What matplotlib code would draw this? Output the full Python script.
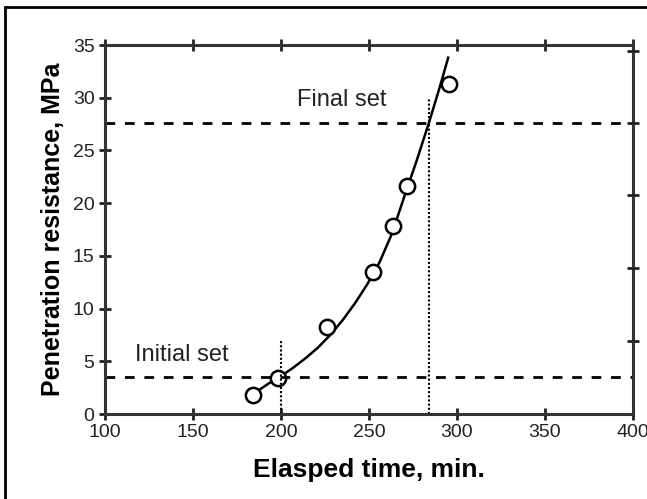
import matplotlib.pyplot as plt
from matplotlib.patches import Rectangle

plt.rcParams['font.family'] = ['Liberation Sans', 'DejaVu Sans']

# measured points
time_pts = [183.9, 198.5, 226.0, 252.4, 263.8, 271.4, 295.6]
resist_pts = [1.8, 3.4, 8.3, 13.5, 17.8, 21.6, 31.3]

# fitted curve
curve_t = [186, 193, 200, 207, 214, 221, 228, 235, 242, 249, 256,
           263, 270, 277, 284, 290, 295]
curve_r = [2.1, 2.9, 3.6, 4.4, 5.3, 6.3, 7.5, 8.9, 10.5, 12.3, 14.4,
           17.1, 20.6, 24.0, 27.6, 30.9, 33.8]

initial_set = 3.5
final_set = 27.6
initial_time = 200
final_time = 284

xticks = [100, 150, 200, 250, 300, 350, 400]
yticks = [0, 5, 10, 15, 20, 25, 30, 35]
right_ticks = [6.95, 13.85, 20.75, 27.65, 34.4]

fig = plt.figure(figsize=(6.47, 4.99), dpi=100)
ax = fig.add_axes([0.1623, 0.1703, 0.9784 - 0.1623, 0.9098 - 0.1703])

ax.plot(curve_t, curve_r, color='black', lw=1.8)
ax.plot(time_pts, resist_pts, 'o', mfc='white', mec='black', ms=11, mew=1.8)

ax.axhline(initial_set, color='black', lw=2, ls=(0, (3.5, 3.5)))
ax.axhline(final_set, color='black', lw=2, ls=(0, (3.5, 3.5)))
ax.plot([initial_time, initial_time], [0, 7.0], color='black', lw=1.5, ls=(0, (1, 1)))
ax.plot([final_time, final_time], [0, 30.0], color='black', lw=1.5, ls=(0, (1, 1)))

ax.text(117, 5.6, 'Initial set', fontsize=17, va='center', ha='left', color='#222222')
ax.text(209, 29.8, 'Final set', fontsize=17, va='center', ha='left', color='#222222')

ax.set_xlim(100, 400)
ax.set_ylim(0, 35)
ax.set_xticks(xticks)
ax.set_yticks(yticks)
ax.tick_params(direction='inout', length=9, width=2, labelsize=14, pad=3,
               top=True, colors='#222222')
ax.tick_params(axis='y', right=False)
for s in ax.spines.values():
    s.set_linewidth(2.2)
    s.set_color('#333333')

ax2 = ax.twinx()
ax2.set_ylim(0, 35)
ax2.set_yticks(right_ticks)
ax2.set_yticklabels([])
ax2.tick_params(direction='inout', length=9, width=2, colors='#222222')
for s in ax2.spines.values():
    s.set_visible(False)

ax.set_xlabel('Elasped time, min.', fontsize=19, fontweight='bold', labelpad=12)
ax.set_ylabel('Penetration resistance, MPa', fontsize=18, fontweight='bold', labelpad=6)

fig.patches.append(Rectangle((5 / 647, -0.1), 1.2, 1 - 7 / 499 + 0.1,
                             transform=fig.transFigure, fill=False,
                             edgecolor='black', lw=2))

fig.savefig('out.png', dpi=100)
